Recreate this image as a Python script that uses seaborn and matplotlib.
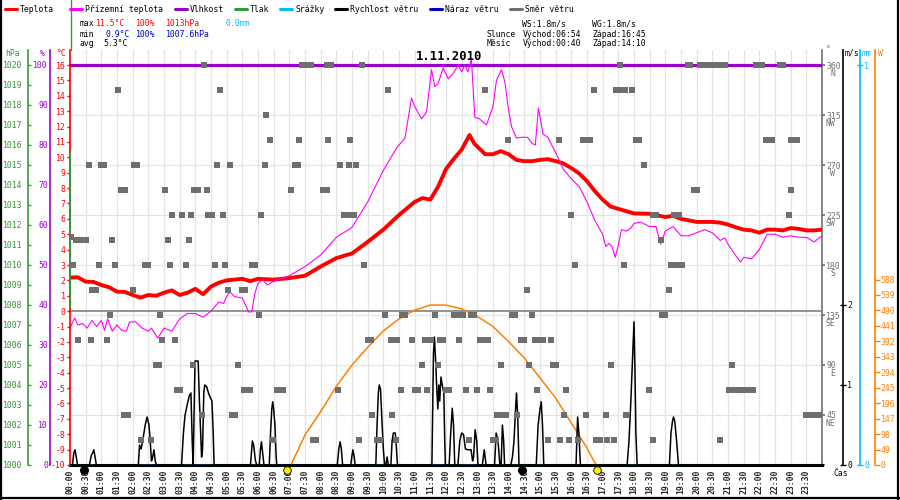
import numpy as np
import pandas as pd
import matplotlib
matplotlib.use("Agg")
import matplotlib.pyplot as plt
import matplotlib.transforms as mtransforms
from matplotlib.lines import Line2D
import seaborn as sns

# ------------------------------------------------------------------ data
temp_hours = [0, 0.25, 0.5, 0.75, 1, 1.25, 1.5, 1.75, 2, 2.25, 2.5, 2.75, 3, 3.25, 3.5, 3.75,
              4, 4.25, 4.5, 4.75, 5, 5.25, 5.5, 5.75, 6, 6.5, 7, 7.5, 8, 8.5, 9, 9.5, 10, 10.5,
              11, 11.25, 11.5, 11.75, 12, 12.25, 12.5, 12.75, 12.9, 13, 13.25, 13.5, 13.75, 14,
              14.25, 14.5, 14.75, 15, 15.25, 15.5, 15.75, 16, 16.25, 16.5, 16.75, 17, 17.25,
              17.5, 17.75, 18, 18.5, 19, 19.25, 19.5, 20, 20.5, 20.75, 21, 21.25, 21.5, 21.75,
              22, 22.25, 22.5, 22.75, 23, 23.25, 23.5, 23.75, 24]
temp_values = [2.18, 2.2, 1.92, 1.9, 1.7, 1.55, 1.27, 1.25, 1.05, 0.88, 1.05, 1.0, 1.2, 1.35,
               1.05, 1.2, 1.45, 1.1, 1.6, 1.85, 2.0, 2.05, 2.1, 1.95, 2.1, 2.05, 2.15, 2.3, 2.9,
               3.45, 3.75, 4.5, 5.3, 6.25, 7.1, 7.35, 7.25, 8.1, 9.24, 9.9, 10.5, 11.45, 10.9,
               10.7, 10.2, 10.2, 10.4, 10.2, 9.83, 9.75, 9.75, 9.83, 9.88, 9.75, 9.6, 9.3, 8.95,
               8.45, 7.8, 7.25, 6.8, 6.65, 6.5, 6.35, 6.33, 6.12, 6.2, 6.0, 5.8, 5.8, 5.75, 5.63,
               5.45, 5.3, 5.25, 5.1, 5.3, 5.3, 5.25, 5.4, 5.35, 5.25, 5.25, 5.3]

ground_hours = [0, 0.15, 0.25, 0.4, 0.55, 0.7, 0.85, 1.0, 1.1, 1.2, 1.35, 1.5, 1.65, 1.8, 1.9,
                2.1, 2.3, 2.5, 2.6, 2.8, 3.0, 3.25, 3.5, 3.75, 4.0, 4.25, 4.5, 4.75, 4.9, 5.0,
                5.1, 5.25, 5.5, 5.6, 5.7, 5.8, 5.9, 6.0, 6.15, 6.3, 6.5, 7.0, 7.5, 8.0, 8.5,
                9.0, 9.5, 10.0, 10.42, 10.69, 10.9, 11.0, 11.22, 11.38, 11.54, 11.64, 11.75,
                11.91, 12.07, 12.23, 12.39, 12.5, 12.6, 12.7, 12.81, 12.92, 13.07, 13.29, 13.5,
                13.61, 13.77, 13.88, 13.98, 14.09, 14.25, 14.4, 14.6, 14.75, 14.85, 14.95, 15.1,
                15.25, 15.5, 15.75, 16.0, 16.25, 16.5, 16.75, 17.0, 17.1, 17.2, 17.3, 17.4, 17.5,
                17.6, 17.75, 17.9, 18.0, 18.2, 18.5, 18.7, 18.85, 19.0, 19.25, 19.5, 19.75, 20.0,
                20.25, 20.5, 20.75, 20.9, 21.0, 21.25, 21.4, 21.5, 21.75, 22.0, 22.25, 22.5,
                22.75, 23.0, 23.25, 23.5, 23.75, 24]
ground_values = [-1.1, -0.45, -0.9, -0.8, -1.1, -0.6, -1.0, -0.6, -1.25, -0.5, -1.3, -0.9, -1.25,
                 -1.3, -0.7, -0.7, -1.1, -1.3, -1.1, -1.75, -1.1, -1.3, -0.5, -0.15, -0.15, -0.4,
                 0.0, 0.6, 0.5, 0.95, 1.25, 0.95, 0.85, 0.4, -0.05, -0.05, 1.15, 1.8, 2.05, 1.7,
                 1.95, 2.3, 2.9, 3.65, 4.8, 5.45, 7.1, 9.15, 10.6, 11.25, 13.85, 13.3, 12.5,
                 12.95, 15.7, 14.6, 14.8, 15.8, 15.1, 15.45, 16.0, 15.55, 16.0, 15.55, 16.4,
                 12.6, 12.5, 12.1, 13.3, 15.0, 15.7, 14.9, 13.3, 12.0, 11.25, 11.3, 11.3, 10.9,
                 10.8, 13.2, 11.5, 11.3, 10.3, 9.2, 8.6, 8.1, 7.1, 5.9, 5.0, 4.2, 4.4, 4.2, 3.5,
                 4.3, 5.3, 5.2, 5.4, 5.7, 5.8, 5.5, 5.5, 4.35, 5.2, 5.5, 4.9, 4.9, 5.1, 5.3, 5.1,
                 4.6, 4.75, 4.35, 3.6, 3.2, 3.5, 3.4, 4.0, 5.0, 5.0, 4.8, 4.9, 4.8, 4.8, 4.5, 4.9]

humidity_hours = [0, 24]
humidity_values = [100, 100]
rain_hours = [0, 24]
rain_values = [0.0, 0.0]

wind_hours = [0, 0.08, 0.12, 0.16, 0.2, 0.24, 0.62, 0.68, 0.72, 0.76, 0.8, 0.84,
              2.18, 2.22, 2.27, 2.32, 2.4, 2.46, 2.52, 2.56, 2.6, 2.64, 2.68, 2.72, 2.76,
              3.56, 3.62, 3.67, 3.74, 3.81, 3.86, 3.9, 3.93, 3.97, 3.99, 4.09, 4.13, 4.2, 4.23,
              4.27, 4.3, 4.36, 4.42, 4.47, 4.53, 4.57, 4.6,
              5.76, 5.82, 5.86, 5.92, 5.96, 6.04, 6.08, 6.11, 6.15, 6.19,
              6.36, 6.4, 6.44, 6.47, 6.5, 6.54, 6.58, 6.6,
              8.53, 8.58, 8.62, 8.66, 8.7, 8.96, 9.0, 9.03, 9.07, 9.1,
              9.76, 9.8, 9.84, 9.87, 9.91, 9.95, 10.0, 10.04, 10.08, 10.12, 10.16,
              10.24, 10.28, 10.32, 10.38, 10.42, 10.45,
              11.55, 11.6, 11.63, 11.67, 11.7, 11.74, 11.77, 11.8, 11.84, 11.88, 11.93, 11.96, 11.98,
              12.1, 12.15, 12.2, 12.24, 12.28, 12.38, 12.44, 12.5, 12.56, 12.62, 12.7, 12.8,
              12.85, 12.88, 12.93, 12.98, 13.02, 13.16, 13.22, 13.28, 13.55, 13.6, 13.66, 13.72,
              13.76, 13.8, 13.84, 13.87, 14.07, 14.12, 14.17, 14.22, 14.25, 14.29, 14.33,
              14.88, 14.94, 15.0, 15.04, 15.08, 15.12, 16.15, 16.2, 16.24, 16.29,
              17.78, 17.84, 17.9, 17.94, 17.97, 18.0, 18.03, 18.06, 18.1,
              19.13, 19.18, 19.23, 19.26, 19.3, 19.36, 19.42, 24]
wind_speed = [0, 0, 0.15, 0.19, 0.1, 0, 0, 0.12, 0.15, 0.19, 0.1, 0,
              0, 0.25, 0.2, 0.3, 0.5, 0.6, 0.5, 0.3, 0.05, 0.1, 0.19, 0.05, 0,
              0, 0.4, 0.62, 0.75, 0.87, 0.9, 0.3, 0, 0.9, 1.3, 1.3, 0.8, 0.1, 0.2,
              0.9, 1.0, 0.98, 0.9, 0.85, 0.8, 0.4, 0,
              0, 0.3, 0.25, 0.05, 0, 0, 0.2, 0.29, 0.15, 0,
              0, 0.4, 0.7, 0.79, 0.7, 0.5, 0.1, 0,
              0, 0.2, 0.29, 0.2, 0, 0, 0.12, 0.19, 0.1, 0,
              0, 0.5, 0.9, 1.0, 0.95, 0.6, 0.2, 0, 0, 0.1, 0,
              0, 0.3, 0.4, 0.4, 0.2, 0,
              0, 1.4, 1.6, 1.3, 1.0, 0.7, 1.0, 0.8, 1.1, 1.0, 0.9, 0.3, 0,
              0, 0.4, 0.71, 0.5, 0, 0, 0.3, 0.4, 0.38, 0.2, 0.19, 0.19,
              0.05, 0.1, 0.44, 0.3, 0, 0, 0.19, 0, 0, 0.4, 0.3, 0,
              0, 0.5, 0.3, 0, 0, 0.1, 0.3, 0.7, 0.9, 0.6, 0,
              0, 0.5, 0.7, 0.79, 0.5, 0, 0, 0.6, 0.4, 0,
              0, 0.3, 0.8, 1.2, 1.5, 1.79, 1.2, 0.4, 0,
              0, 0.4, 0.55, 0.6, 0.55, 0.3, 0, 0]

sun_hours = [7.05, 7.5, 8.0, 8.5, 9.0, 9.5, 10.0, 10.5, 11.0, 11.5, 12.0, 12.5, 13.0, 13.5,
             14.0, 14.5, 15.0, 15.5, 16.0, 16.5, 16.7, 16.8]
sun_watts = [0, 95, 169, 249, 317, 373, 425, 463, 491, 507, 507, 495, 471, 439, 391, 339, 276,
             212, 133, 54, 16, 0]

sunrise_sunset = [6.93, 16.82]
moonrise_moonset = [0.45, 14.42]

# wind direction samples (hours) grouped by direction in degrees
dir_360 = [4.27, 7.4, 7.5, 7.6, 7.7, 8.2, 8.33, 9.31, 17.54, 19.72, 19.8, 20.1, 20.2, 20.3, 20.4,
           20.5, 20.6, 20.7, 20.9, 21.9, 22.0, 22.1, 22.65, 22.75]
dir_337 = [1.52, 4.78, 10.14, 13.24, 16.71, 17.42, 17.6, 17.7, 17.95]
dir_315 = [6.27]
dir_292 = [6.38, 7.3, 8.23, 8.95, 13.98, 15.6, 16.37, 16.45, 16.58, 18.05, 18.15, 22.2, 22.3,
           22.4, 23.0, 23.1, 23.2]
dir_270 = [0.61, 0.98, 1.08, 2.04, 2.15, 4.68, 5.12, 6.21, 7.17, 7.27, 8.63, 8.9, 9.12, 18.33]
dir_247 = [1.64, 1.74, 3.03, 3.97, 4.08, 4.36, 7.05, 8.08, 8.2, 19.9, 20.0, 23.02]
dir_225 = [3.27, 3.59, 3.86, 4.42, 4.52, 4.87, 6.11, 8.74, 8.86, 9.06, 15.99, 18.6, 18.7, 19.27,
           19.44, 22.94]
dir_205 = [0.02]
dir_202 = [0.19, 0.32, 0.42, 0.5, 1.33, 3.12, 3.8, 18.85]
dir_180 = [0.08, 0.92, 1.43, 2.4, 2.5, 3.19, 3.69, 4.63, 4.94, 5.8, 5.9, 9.38, 16.12, 17.67,
           19.17, 19.35, 19.54]
dir_157 = [0.71, 0.82, 2.0, 5.03, 5.5, 5.6, 14.58, 19.11]
dir_135 = [1.28, 2.87, 6.02, 10.05, 10.6, 10.7, 11.64, 12.25, 12.33, 12.45, 12.55, 12.8, 12.9,
           14.1, 14.2, 14.74, 18.9, 19.0]
dir_112 = [0.26, 0.67, 1.18, 2.93, 3.35, 9.5, 9.6, 10.23, 10.45, 10.91, 11.33, 11.52, 11.8,
           11.9, 12.41, 13.1, 13.2, 13.35, 14.4, 14.5, 14.83, 15.0, 15.1, 15.35]
dir_090 = [2.74, 2.84, 3.93, 5.36, 11.23, 11.75, 13.75, 14.66, 15.4, 15.5, 17.25, 21.12]
dir_067 = [3.4, 3.5, 5.55, 5.65, 5.75, 6.6, 6.7, 6.8, 8.54, 10.56, 11.0, 11.1, 11.38, 12.0,
           12.1, 12.65, 13.0, 13.4, 14.92, 15.84, 18.47, 21.02, 21.2, 21.3, 21.4, 21.5, 21.6,
           21.7, 21.8]
dir_045 = [1.73, 1.85, 4.22, 5.16, 5.27, 9.63, 10.29, 13.64, 13.8, 13.9, 14.25, 15.76, 16.48,
           17.1, 17.76, 23.5, 23.6, 23.7, 23.8, 23.9]
dir_022 = [2.26, 2.6, 6.49, 7.75, 7.85, 9.22, 9.8, 9.9, 10.39, 12.74, 13.5, 13.6, 15.24, 15.65,
           15.92, 16.21, 16.8, 16.9, 17.15, 17.35, 18.6, 20.76]
dir_groups = [(360, dir_360), (337.5, dir_337), (315, dir_315), (292.5, dir_292),
              (270, dir_270), (247.5, dir_247), (225, dir_225), (205, dir_205),
              (202.5, dir_202), (180, dir_180), (157.5, dir_157), (135, dir_135),
              (112.5, dir_112), (90, dir_090), (67.5, dir_067), (45, dir_045), (22.5, dir_022)]

time_labels = [f"{h:02d}:{m:02d}" for h in range(24) for m in (0, 30)]
dir_ticks = [45, 90, 135, 180, 225, 270, 315, 360]
dir_names = ["NE", "E", "SE", "S", "SW", "W", "NW", "N"]
temp_ticks = list(range(-10, 17))
pct_ticks = list(range(0, 101, 10))
hpa_ticks = list(range(1000, 1021))
ws_ticks = [0, 1, 2]
mm_ticks = [0, 1]
watt_ticks = list(range(0, 589, 49))

# ------------------------------------------------------------------ style
RED, MAG, PUR, GRN = "#ff0000", "#ff00ff", "#9900cc", "#339933"
CYA, BLK, BLU, GRY, ORA = "#00bbff", "#000000", "#0000cc", "#707070", "#ff8000"

sns.set_theme(style="white")
plt.rcParams["font.family"] = ["DejaVu Sans Mono", "DejaVu Sans"]
plt.rcParams["font.size"] = 5.9
FS = 5.9

W_PX, H_PX = 900, 500
L, R, T, B = 70, 822, 50, 465
AW = R - L
fig = plt.figure(figsize=(9, 5), dpi=100)
fig.patch.set_facecolor("white")


def lims(va, ya, vb, yb):
    s = (vb - va) / (yb - ya)
    return (va + (B - ya) * s, va + (T - ya) * s)


rect = [L / W_PX, 1 - B / H_PX, AW / W_PX, (B - T) / H_PX]
base = fig.add_axes(rect)
base.set_facecolor("white")


def layer():
    a = fig.add_axes(rect, sharex=base)
    a.patch.set_visible(False)
    a.xaxis.set_visible(False)
    for s in a.spines.values():
        s.set_visible(False)
    a.tick_params(axis="y", left=False, right=False, labelleft=False, labelright=False)
    a.grid(False)
    return a


ax_p = layer()
ax_h = layer()
ax_t = layer()
ax_w = layer()
ax_mm = layer()
ax_ws = layer()
ax_sq = layer()

# humidity
sns.lineplot(x=humidity_hours, y=humidity_values, ax=ax_p, color=PUR, linewidth=2.3,
             estimator=None)
# temperatures
ax_t.axhline(0, color="#808080", linewidth=1.2, zorder=1)
sns.lineplot(x=temp_hours, y=temp_values, ax=ax_t, color=RED, linewidth=2.8, estimator=None)
sns.lineplot(x=ground_hours, y=ground_values, ax=ax_t, color=MAG, linewidth=0.8, estimator=None)
# radiation
sns.lineplot(x=sun_hours, y=sun_watts, ax=ax_w, color=ORA, linewidth=1.1, estimator=None)
# rain
sns.lineplot(x=rain_hours, y=rain_values, ax=ax_mm, color=CYA, linewidth=1.0, estimator=None)
# wind speed
sns.lineplot(x=wind_hours, y=wind_speed, ax=ax_ws, color=BLK, linewidth=1.1, estimator=None)
lift = mtransforms.offset_copy(ax_ws.transData, fig=fig, x=0, y=-5, units="dots")
ax_ws.scatter(sunrise_sunset, [0, 0], s=30, color="#ffee00", edgecolor="black",
              linewidth=0.6, zorder=5, transform=lift, clip_on=False)
ax_ws.scatter(moonrise_moonset, [0, 0], s=30, color="black", zorder=5, transform=lift,
              clip_on=False)
# wind direction
dir_df = pd.DataFrame([(h, d) for d, hs in dir_groups for h in hs], columns=["hour", "deg"])
sns.scatterplot(data=dir_df, x="hour", y="deg", ax=ax_sq, marker="s", s=13, color="#6e6e6e",
                linewidth=0, zorder=6)

for a in [ax_p, ax_t, ax_w, ax_mm, ax_ws, ax_sq]:
    a.set_xlabel("")
    a.set_ylabel("")

# ------------------------------------------------------------------ axes
base.set_ylim(*lims(360, 65, 0, 465))
ax_sq.set_ylim(*lims(360, 65, 0, 465))
ax_p.set_ylim(*lims(100, 65, 0, 465))
ax_h.set_ylim(*lims(1020, 65, 1000, 465))
ax_t.set_ylim(*lims(16, 65, -10, 465))
ax_w.set_ylim(*lims(588, 279.5, 0, 465))
ax_mm.set_ylim(*lims(1, 65, 0, 465))
ax_ws.set_ylim(*lims(2, 305, 0, 465))

base.set_xticks(np.arange(0, 24, 0.5))
base.set_xticklabels(time_labels, rotation=90, fontsize=FS, fontweight="bold")
base.tick_params(axis="x", length=0, pad=3)
base.set_yticks(range(0, 361, 45))
base.set_yticklabels([""] + [str(v) for v in dir_ticks])
base.yaxis.tick_right()
base.tick_params(axis="y", length=2, color=GRY, labelcolor=GRY, pad=1, labelsize=FS,
                 left=False, labelleft=False, right=True, labelright=True)
base.grid(True, color="#e4e4e4", linewidth=0.9)
for s in ["left", "top"]:
    base.spines[s].set_visible(False)
base.spines["right"].set_color(GRY)
base.spines["right"].set_linewidth(1.2)
base.spines["bottom"].set_color("black")
base.spines["bottom"].set_linewidth(2.2)

trn = mtransforms.blended_transform_factory(base.transAxes, base.transData)
trn = mtransforms.offset_copy(trn, fig=fig, x=0, y=-8.5, units="dots")
for v, n in zip(dir_ticks, dir_names):
    base.text((835 - L) / AW, v, n, transform=trn, ha="right", va="center", color=GRY,
              fontsize=FS, clip_on=False)


def left_axis(a, pos_px, color, ticks, length, direction, pad):
    a.spines["left"].set_visible(True)
    a.spines["left"].set_position(("axes", (pos_px - L) / AW))
    a.spines["left"].set_color(color)
    a.spines["left"].set_linewidth(1.2)
    a.set_yticks(ticks)
    a.set_yticklabels([str(t) for t in ticks])
    a.tick_params(axis="y", left=True, labelleft=True, right=False, labelright=False,
                  length=length, direction=direction, color=color, labelcolor=color,
                  pad=pad, labelsize=FS, width=1)


def right_axis(a, pos_px, color, ticks, length, direction, pad):
    a.spines["right"].set_visible(True)
    a.spines["right"].set_position(("axes", (pos_px - L) / AW))
    a.spines["right"].set_color(color)
    a.spines["right"].set_linewidth(1.2)
    a.set_yticks(ticks)
    a.set_yticklabels([str(t) for t in ticks])
    a.tick_params(axis="y", right=True, labelright=True, left=False, labelleft=False,
                  length=length, direction=direction, color=color, labelcolor=color,
                  pad=pad, labelsize=FS, width=1)


left_axis(ax_h, 28, GRN, hpa_ticks, 2.2, "in", 4)
left_axis(ax_p, 50, PUR, pct_ticks, 0, "out", 1.5)
left_axis(ax_t, 70, RED, temp_ticks, 2.4, "out", 0.8)
right_axis(ax_ws, 843, BLK, ws_ticks, 4, "inout", 1)
right_axis(ax_mm, 860, CYA, mm_ticks, 4, "inout", 1)
right_axis(ax_w, 875, ORA, watt_ticks, 3.5, "out", 0.5)

# green overlay on the temperature spine and the line above the plot
ax_t.axvline(0, ymin=(B - 307) / (B - T), ymax=(B - 153) / (B - T), color=GRN, linewidth=1.4,
             clip_on=False, zorder=10)
fig.add_artist(Line2D([(L + 0.5) / W_PX] * 2, [1 - 0 / H_PX, 1 - T / H_PX], color=GRN,
                      linewidth=1.0, transform=fig.transFigure))

base.set_xlim(0, 24)


# ------------------------------------------------------------------ texts
def ftext(x, y, s, color="black", **kw):
    fig.text(x / W_PX, 1 - y / H_PX, s, color=color, fontsize=kw.pop("fontsize", FS),
             ha=kw.pop("ha", "left"), va=kw.pop("va", "center"), **kw)


legend_items = [(5, RED, "Teplota"), (70, MAG, "Přízemní teplota"), (175, PUR, "Vlhkost"),
                (235, GRN, "Tlak"), (280, CYA, "Srážky"), (335, BLK, "Rychlost větru"),
                (430, BLU, "Náraz větru"), (510, GRY, "Směr větru")]
for x0, c, lab in legend_items:
    fig.add_artist(Line2D([x0 / W_PX, (x0 + 12) / W_PX], [1 - 9 / H_PX] * 2, color=c,
                          linewidth=2.2, transform=fig.transFigure))
    ftext(x0 + 15, 9, lab)

ftext(80, 24, "max")
ftext(95.5, 24, "11.5°C", RED)
ftext(135.5, 24, "100%", RED)
ftext(165.5, 24, "1013hPa", RED)
ftext(225.5, 24, "0.0mm", CYA)
ftext(80, 34, "min")
ftext(105.5, 34, "0.9°C", BLU)
ftext(135.5, 34, "100%", BLU)
ftext(165.5, 34, "1007.6hPa", BLU)
ftext(80, 44, "avg")
ftext(103, 44, "5.3°C")

ftext(522.5, 24, "WS:1.8m/s")
ftext(592.5, 24, "WG:1.8m/s")
ftext(486.5, 34, "Slunce")
ftext(522.5, 34, "Východ:06:54")
ftext(592.5, 34, "Západ:16:45")
ftext(486.5, 44, "Měsíc")
ftext(522.5, 44, "Východ:00:40")
ftext(592.5, 44, "Západ:14:10")

ftext(5, 53, "hPa", GRN)
ftext(40, 53, "%", PUR)
ftext(57, 53, "°C", RED)
ftext(826, 50, "°", GRY)
ftext(845, 53, "m/s", BLK)
ftext(862, 53, "mm", CYA)
ftext(878, 53, "W", ORA)
ftext(833, 473, "Čas")

ftext(449, 57, "1.11.2010", fontsize=8.8, fontweight="bold", ha="center")

# outer frame (left, right, bottom)
for xs, ys in [([0.0012, 0.0012], [0, 1]), ([0.9978, 0.9978], [0, 1]), ([0, 1], [0.005, 0.005])]:
    fig.add_artist(Line2D(xs, ys, color="black", linewidth=1.6, transform=fig.transFigure))

fig.savefig("out.png", dpi=100, facecolor="white")
